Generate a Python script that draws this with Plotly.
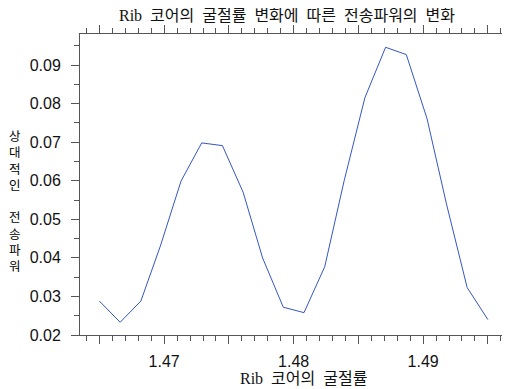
import plotly.graph_objects as go

# Data
refractive_index = [1.4650, 1.4666, 1.4682, 1.4697, 1.4713, 1.4729, 1.4745,
                    1.4761, 1.4776, 1.4792, 1.4808, 1.4824, 1.4839, 1.4855,
                    1.4871, 1.4887, 1.4903, 1.4918, 1.4934, 1.4950]
relative_power = [0.0288, 0.0233, 0.0288, 0.0430, 0.0599, 0.0698, 0.0691,
                  0.0570, 0.0400, 0.0272, 0.0258, 0.0377, 0.0600, 0.0815,
                  0.0946, 0.0927, 0.0761, 0.0540, 0.0323, 0.0240]

x_tickvals = [1.465, 1.470, 1.475, 1.480, 1.485, 1.490, 1.495]
x_ticktext = ["", "1.47", "", "1.48", "", "1.49", ""]
y_tickvals = [0.02, 0.03, 0.04, 0.05, 0.06, 0.07, 0.08, 0.09]
y_ticktext = ["0.02", "0.03", "0.04", "0.05", "0.06", "0.07", "0.08", "0.09"]

SP = "\u00a0\u00a0"
title_text = SP.join(["Rib", "코어의", "굴절률", "변화에", "따른", "전송파워의", "변화"])
x_title = SP.join(["Rib", "코어의", "굴절률"])
y_title = "상<br>대<br>적<br>인<br><br>전<br>송<br>파<br>워"

serif = "Liberation Serif, Noto Sans CJK KR, serif"
sans = "Liberation Sans, Arial, sans-serif"
axis_color = "#555555"

# page body has an 8px margin, so the figure is drawn offset by 8px
OFF = 8
W, H = 510 - OFF, 389 - OFF

fig = go.Figure()
fig.add_trace(go.Scatter(
    x=refractive_index, y=relative_power, mode="lines",
    line=dict(color="#3556c4", width=1),
    showlegend=False, hoverinfo="skip",
))

axis_common = dict(
    showline=True, linecolor=axis_color, linewidth=1, mirror="allticks",
    ticks="outside", ticklen=8, tickwidth=1, tickcolor=axis_color,
    showgrid=False, zeroline=False, automargin=False,
    tickfont=dict(family=sans, size=16, color="#111111"),
)

fig.update_xaxes(
    range=[1.4635, 1.4964], tickmode="array",
    tickvals=x_tickvals, ticktext=x_ticktext,
    minor=dict(dtick=0.001, tick0=1.46, ticks="outside", ticklen=5,
               tickwidth=1, tickcolor=axis_color, showgrid=False),
    ticklabelstandoff=4,
    **axis_common,
)
fig.update_yaxes(
    range=[0.02, 0.09804], tickmode="array",
    tickvals=y_tickvals, ticktext=y_ticktext,
    minor=dict(dtick=0.005, tick0=0.0, ticks="outside", ticklen=5,
               tickwidth=1, tickcolor=axis_color, showgrid=False),
    ticklabelstandoff=7,
    **axis_common,
)

fig.update_layout(
    width=W, height=H,
    margin=dict(l=80 - OFF, r=4, t=34 - OFF, b=389 - 335),
    paper_bgcolor="white", plot_bgcolor="white",
    title=dict(text=title_text, xref="container", yref="container",
               x=(287 - OFF) / W, y=1 - (15.5 - OFF) / H,
               xanchor="center", yanchor="middle",
               font=dict(family=serif, size=16, color="#111111")),
    annotations=[
        dict(text=x_title, xref="paper", yref="paper",
             x=(303.5 - 80) / 426, y=(335 - 378) / 301,
             xanchor="center", yanchor="middle", showarrow=False,
             font=dict(family=serif, size=16, color="#111111")),
        dict(text=y_title, xref="paper", yref="paper",
             x=(15 - 80) / 426, y=(335 - 200) / 301,
             xanchor="center", yanchor="middle", showarrow=False,
             font=dict(family="Noto Sans CJK KR, sans-serif", size=12.5,
                       color="#000000")),
    ],
)

fig.write_html("out.html")
